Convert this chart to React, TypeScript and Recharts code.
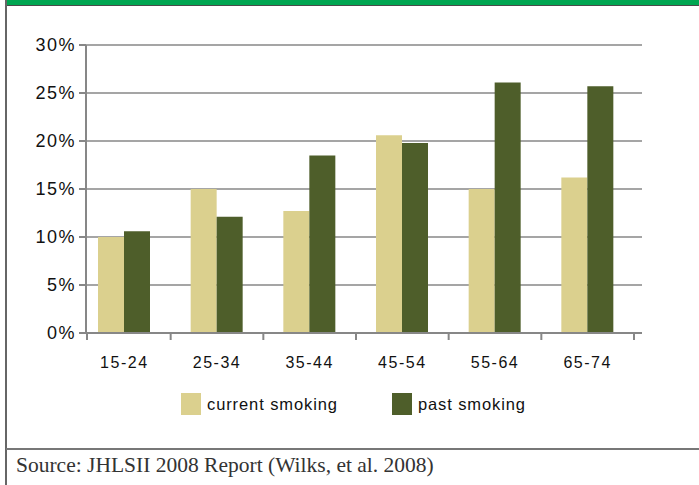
import { BarChart, Bar, XAxis, YAxis, CartesianGrid, Legend } from 'recharts'

const ageGroups = ['15-24', '25-34', '35-44', '45-54', '55-64', '65-74']
const currentSmoking = [10.0, 15.0, 12.7, 20.6, 15.0, 16.2]
const pastSmoking = [10.6, 12.1, 18.5, 19.8, 26.1, 25.7]
const yTicks = [0, 5, 10, 15, 20, 25, 30]

const data = ageGroups.map((age, i) => ({
  age,
  current: currentSmoking[i],
  past: pastSmoking[i],
}))

const PLOT_LEFT = 86
const PLOT_TOP = 45
const PLOT_BOTTOM = 333
const CHART_W = 699
const CHART_H = 440
const AXIS = '#878787'
const FONT = '"Liberation Sans", Arial, sans-serif'

function AgeTick(props: any) {
  const { x, payload, index } = props
  const half = payload && payload.offset ? payload.offset : 46
  return (
    <g>
      {index === 0 && (
        <line x1={PLOT_LEFT + 1} x2={PLOT_LEFT + 1} y1={PLOT_BOTTOM} y2={PLOT_BOTTOM + 7} stroke={AXIS} strokeWidth={2} />
      )}
      <line x1={x + half} x2={x + half} y1={PLOT_BOTTOM} y2={PLOT_BOTTOM + 7} stroke={AXIS} strokeWidth={2} />
      <text
        x={x}
        y={PLOT_BOTTOM + 35}
        textAnchor="middle"
        fontFamily={FONT}
        fontSize={16}
        letterSpacing={1.5}
        fill="#111"
      >
        {payload.value}
      </text>
    </g>
  )
}

function LegendBox(props: any) {
  const items = props.payload || []
  return (
    <div style={{ display: 'flex', alignItems: 'center', fontFamily: FONT, fontSize: 16.5, letterSpacing: 0.9, color: '#111' }}>
      {items.map((it: any, i: number) => (
        <div key={i} style={{ display: 'flex', alignItems: 'center', marginRight: 54 }}>
          <span style={{ display: 'inline-block', width: 20, height: 22, background: it.color, marginRight: 6 }} />
          <span>{it.value}</span>
        </div>
      ))}
    </div>
  )
}

export default function App() {
  return (
    <div style={{ position: 'absolute', left: 0, top: 0, width: 699, height: 485, background: '#fff', overflow: 'hidden' }}>
      <div style={{ position: 'absolute', left: 6, right: 0, top: 0, height: 5, background: '#00a651', borderBottom: '1px solid #4a4a4a' }} />
      <div style={{ position: 'absolute', left: 5, top: 0, width: 2, height: 485, background: '#666' }} />
      <div style={{ position: 'absolute', left: 6, right: 0, top: 448, height: 2, background: '#777' }} />
      <div
        style={{
          position: 'absolute',
          left: 16,
          top: 453,
          fontFamily: '"Liberation Serif", "Times New Roman", serif',
          fontSize: 21.5,
          lineHeight: '24px',
          color: '#333',
        }}
      >
        Source: JHLSII 2008 Report (Wilks, et al. 2008)
      </div>
      <div style={{ position: 'absolute', left: 0, top: 0 }}>
        <BarChart
          width={CHART_W}
          height={CHART_H}
          data={data}
          margin={{ top: PLOT_TOP, right: CHART_W - 642, left: 0, bottom: CHART_H - PLOT_BOTTOM - 40 }}
          barSize={26}
          barGap={0}
        >
          <CartesianGrid vertical={false} stroke={AXIS} strokeWidth={1.5} />
          <XAxis
            dataKey="age"
            height={40}
            padding={{ left: -8, right: 8 }}
            axisLine={{ stroke: AXIS, strokeWidth: 2 }}
            tickLine={false}
            tick={<AgeTick />}
            interval={0}
          />
          <YAxis
            width={PLOT_LEFT}
            domain={[0, 30]}
            ticks={yTicks}
            tickFormatter={(v: number) => `${v}%`}
            axisLine={{ stroke: AXIS, strokeWidth: 2 }}
            tickLine={{ stroke: AXIS, strokeWidth: 2 }}
            tickSize={7}
            tickMargin={3}
            tick={{ fill: '#111', fontSize: 18, fontFamily: FONT, letterSpacing: 1.5 }}
          />
          <Legend
            content={<LegendBox />}
            wrapperStyle={{ left: 181, top: 393, bottom: 'auto', width: 'auto', height: 0, overflow: 'visible' }}
          />
          <Bar dataKey="current" name="current smoking" fill="#dbd08e" isAnimationActive={false} />
          <Bar dataKey="past" name="past smoking" fill="#4e5e2a" isAnimationActive={false} />
        </BarChart>
      </div>
    </div>
  )
}
